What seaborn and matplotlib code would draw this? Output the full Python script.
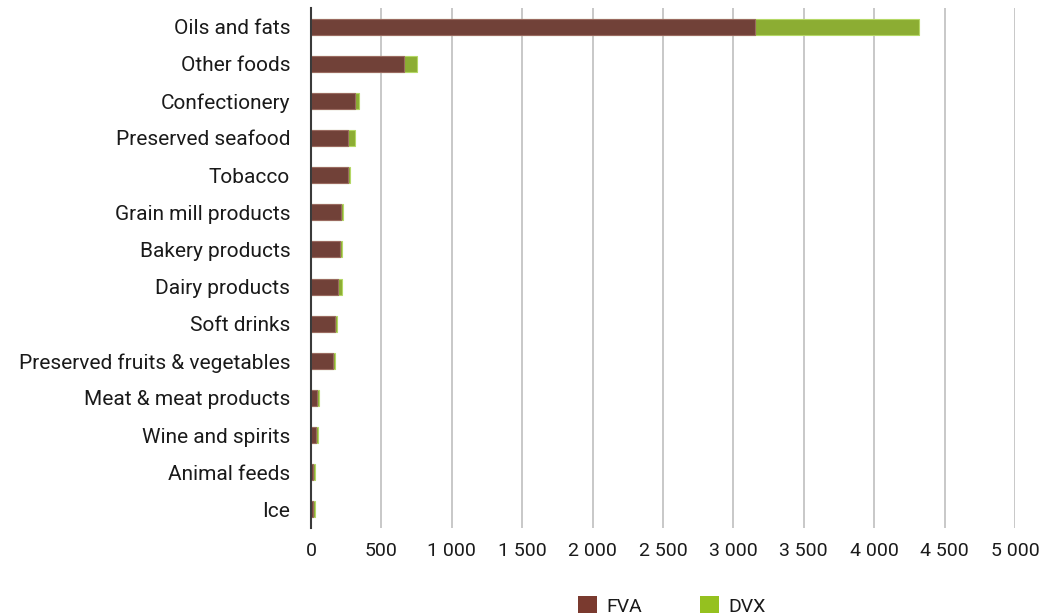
import matplotlib
matplotlib.use("Agg")
import matplotlib.pyplot as plt
from matplotlib.patches import Patch
import seaborn as sns
import pandas as pd

categories = [
    "Oils and fats", "Other foods", "Confectionery", "Preserved seafood",
    "Tobacco", "Grain mill products", "Bakery products", "Dairy products",
    "Soft drinks", "Preserved fruits & vegetables", "Meat & meat products",
    "Wine and spirits", "Animal feeds", "Ice",
]
fva = [3150, 658, 312, 265, 265, 213, 206, 194, 170, 159, 46, 33, 14, 14]
dvx = [1170, 95, 27, 47, 12, 17, 12, 24, 12, 11, 14, 15, 11, 11]
x_ticks = [0, 500, 1000, 1500, 2000, 2500, 3000, 3500, 4000, 4500, 5000]

FVA_COLOR = "#7a3a2f"
DVX_COLOR = "#95c11f"
TEXT_COLOR = "#1a1a1a"

df = pd.DataFrame({"category": categories, "FVA": fva, "DVX": dvx})
df["total"] = df["FVA"] + df["DVX"]

sns.set_theme(style="white")
plt.rcParams["font.family"] = ["Roboto", "DejaVu Sans"]

fig = plt.figure(figsize=(10.45, 6.16), dpi=100)
ax = fig.add_axes([0.2976, 0.143, 0.9713 - 0.2976, 0.987 - 0.143])

# Stacked bars: the total in green, FVA drawn over it from zero
sns.barplot(data=df, y="category", x="total", color=DVX_COLOR, orient="h",
            width=0.43, edgecolor="#b5d866", linewidth=0.8, ax=ax, zorder=3)
sns.barplot(data=df, y="category", x="FVA", color=FVA_COLOR, orient="h",
            width=0.43, edgecolor="#9a6a60", linewidth=0.8, ax=ax, zorder=4)
for p in ax.patches:
    p.set_alpha(1)

ax.set_xlim(0, 5000)
ax.set_ylim(len(categories) - 0.5, -0.5)
ax.set_xticks(x_ticks)
ax.set_xticklabels([f"{v:,}".replace(",", " ") for v in x_ticks])
ax.set_xlabel("")
ax.set_ylabel("")

ax.grid(axis="x", color="#c8c8c8", linewidth=1.4, zorder=0)
ax.grid(axis="y", visible=False)
ax.set_axisbelow(True)
for side in ["top", "right", "bottom"]:
    ax.spines[side].set_visible(False)
ax.spines["left"].set_color("#3a3a3a")
ax.spines["left"].set_linewidth(1.5)
ax.spines["left"].set_zorder(5)

ax.tick_params(axis="y", length=0, pad=15, labelsize=15, labelcolor=TEXT_COLOR)
ax.tick_params(axis="x", length=0, pad=10, labelsize=14, labelcolor=TEXT_COLOR)

handles = [Patch(facecolor=FVA_COLOR, edgecolor="none", label="FVA"),
           Patch(facecolor=DVX_COLOR, edgecolor="none", label="DVX")]
fig.legend(handles=handles, loc="center", bbox_to_anchor=(672 / 1045, 1 - 606 / 616),
           ncol=2, frameon=False, fontsize=14, handlelength=0.95, handleheight=0.95,
           handletextpad=0.5, columnspacing=3.0, labelcolor=TEXT_COLOR)

fig.savefig("out.png", dpi=100)
